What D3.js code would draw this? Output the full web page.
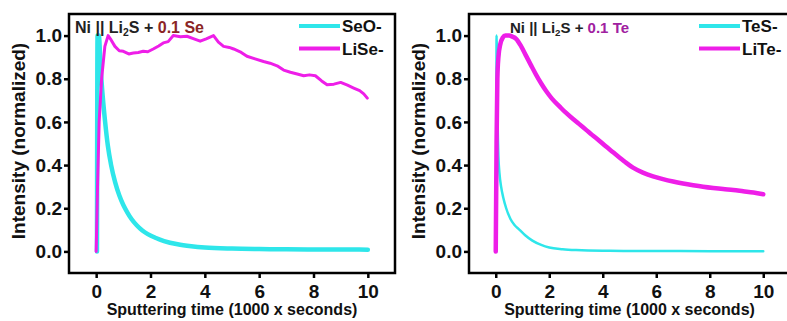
<!DOCTYPE html>
<html>
<head>
<meta charset="utf-8">
<script src="https://cdn.jsdelivr.net/npm/d3@7"></script>
<style>
  body { margin: 0; background: #fff; }
  text { font-family: "Liberation Sans", Arial, sans-serif; font-weight: bold; }
</style>
</head>
<body>
<script>
// x ticks / y ticks
const xTicks = [0, 2, 4, 6, 8, 10];
const yTicks = [0.0, 0.2, 0.4, 0.6, 0.8, 1.0];

// left panel: Ni || Li2S + 0.1 Se
const seoData = [[0.03, 0], [0.05, 1.0], [0.1, 1.0], [0.16, 0.86], [0.24, 0.72], [0.33, 0.6], [0.43, 0.49],
  [0.55, 0.4], [0.7, 0.32], [0.85, 0.26], [1.0, 0.215], [1.15, 0.18], [1.3, 0.15], [1.5, 0.12], [1.7, 0.097],
  [1.9, 0.08], [2.2, 0.062], [2.5, 0.048], [3.0, 0.033], [3.5, 0.024], [4.0, 0.018], [5.0, 0.013],
  [6.0, 0.011], [7.0, 0.01], [8.0, 0.009], [9.0, 0.009], [10.0, 0.008]];
const liseData = [[0, 0], [0.05, 0.3], [0.11, 0.6], [0.2, 0.8], [0.32, 0.95], [0.44, 1.0], [0.55, 0.98],
  [0.69, 0.95], [0.85, 0.93], [1.0, 0.927], [1.2, 0.915], [1.37, 0.919], [1.55, 0.922], [1.73, 0.927],
  [1.9, 0.925], [2.1, 0.938], [2.3, 0.952], [2.47, 0.966], [2.65, 0.972], [2.84, 1.0], [3.1, 0.995],
  [3.34, 0.997], [3.6, 0.985], [3.83, 0.974], [4.05, 0.985], [4.32, 1.0], [4.5, 0.97], [4.69, 0.95],
  [4.9, 0.945], [5.06, 0.938], [5.3, 0.925], [5.55, 0.904], [5.85, 0.892], [6.16, 0.88], [6.4, 0.872],
  [6.66, 0.86], [6.9, 0.84], [7.15, 0.83], [7.4, 0.822], [7.64, 0.814], [7.85, 0.818], [8.07, 0.814],
  [8.3, 0.79], [8.5, 0.772], [8.75, 0.775], [9.0, 0.783], [9.25, 0.77], [9.48, 0.757], [9.7, 0.745],
  [9.85, 0.73], [9.98, 0.71]];

// right panel: Ni || Li2S + 0.1 Te
const tesData = [[0.02, 0], [0.03, 1.0], [0.05, 0.8], [0.07, 0.6], [0.1, 0.44], [0.14, 0.36], [0.2, 0.3],
  [0.28, 0.25], [0.39, 0.2], [0.55, 0.15], [0.7, 0.122], [0.89, 0.1], [1.1, 0.075], [1.37, 0.05],
  [1.7, 0.03], [2.0, 0.018], [2.5, 0.01], [3, 0.006], [4, 0.003], [6, 0.002], [8, 0.001], [10, 0.001]];
const liteData = [[0, 0], [0.03, 0.5], [0.06, 0.8], [0.1, 0.9], [0.17, 0.96], [0.26, 0.99], [0.36, 1.0],
  [0.5, 1.0], [0.62, 0.995], [0.76, 0.985], [0.95, 0.95], [1.14, 0.905], [1.32, 0.862], [1.51, 0.818],
  [1.7, 0.778], [1.89, 0.742], [2.1, 0.708], [2.39, 0.671], [2.6, 0.645], [2.88, 0.615], [3.1, 0.592],
  [3.39, 0.562], [3.6, 0.54], [3.88, 0.512], [4.1, 0.488], [4.4, 0.458], [4.6, 0.438], [4.85, 0.413],
  [5.13, 0.388], [5.5, 0.365], [5.88, 0.348], [6.25, 0.335], [6.63, 0.324], [7.0, 0.315], [7.38, 0.307],
  [7.75, 0.3], [8.13, 0.294], [8.5, 0.289], [8.88, 0.285], [9.25, 0.279], [9.63, 0.273], [10.0, 0.265]];

const cyan = '#2ee6ea', magenta = '#ee1ee8';

const panels = [
  { x0: 69, x1: 395, ttl: '0.1 Se', ttlColor: '#8b2525', ttlX: 75, ttlSize: 16,
    series: [
      { name: 'SeO-', data: seoData, color: cyan, w: 4.5, curve: d3.curveMonotoneX },
      { name: 'LiSe-', data: liseData, color: magenta, w: 3, curve: d3.curveLinear }
    ] },
  { x0: 469, x1: 790, ttl: '0.1 Te', ttlColor: '#a021a0', ttlX: 510, ttlSize: 15,
    series: [
      { name: 'TeS-', data: tesData, color: cyan, w: 2.5, curve: d3.curveMonotoneX },
      { name: 'LiTe-', data: liteData, color: magenta, w: 4.5, curve: d3.curveMonotoneX }
    ] }
];

const W = 787, H = 321;
const svg = d3.select('body').append('svg').attr('width', W).attr('height', H);

const yScale = d3.scaleLinear().domain([-0.1, 1.1]).range([273, 14]);

panels.forEach(p => {
  const xScale = d3.scaleLinear().domain([-1, 11]).range([p.x0, p.x1]);
  const g = svg.append('g');

  // curves
  p.series.forEach(s => {
    const line = d3.line().x(d => xScale(d[0])).y(d => yScale(d[1])).curve(s.curve);
    g.append('path').datum(s.data)
      .attr('d', line)
      .attr('fill', 'none')
      .attr('stroke', s.color)
      .attr('stroke-width', s.w)
      .attr('stroke-linejoin', 'round')
      .attr('stroke-linecap', 'round');
  });

  // frame
  g.append('rect')
    .attr('x', p.x0).attr('y', 14)
    .attr('width', p.x1 - p.x0).attr('height', 273 - 14)
    .attr('fill', 'none').attr('stroke', '#000').attr('stroke-width', 2.5);

  // axes
  const xAxis = g.append('g').attr('transform', 'translate(0,273)')
    .call(d3.axisBottom(xScale).tickValues(xTicks).tickSize(5).tickPadding(7).tickFormat(d3.format('d')));
  const yAxis = g.append('g').attr('transform', `translate(${p.x0},0)`)
    .call(d3.axisLeft(yScale).tickValues(yTicks).tickSize(5).tickPadding(2).tickFormat(d3.format('.1f')));
  [xAxis, yAxis].forEach(a => {
    a.select('.domain').remove();
    a.selectAll('.tick line').attr('stroke', '#000').attr('stroke-width', 2.5);
    a.selectAll('.tick text').attr('fill', '#111').style('font-size', '19px')
      .style('font-family', '"Liberation Sans", Arial, sans-serif');
  });

  // axis titles
  g.append('text')
    .attr('x', (p.x0 + p.x1) / 2).attr('y', 315)
    .attr('text-anchor', 'middle').style('font-size', '16px').attr('fill', '#111')
    .text('Sputtering time (1000 x seconds)');
  g.append('text')
    .attr('transform', `translate(${p.x0 - 44},141) rotate(-90)`)
    .attr('text-anchor', 'middle').style('font-size', '19px').attr('fill', '#111')
    .text('Intensity (normalized)');

  // panel label
  const t = g.append('text').attr('x', p.ttlX).attr('y', 33)
    .style('font-size', p.ttlSize + 'px').attr('fill', '#222');
  t.append('tspan').text('Ni || Li');
  t.append('tspan').text('2').attr('dy', 3).style('font-size', (p.ttlSize * 0.65) + 'px');
  t.append('tspan').text('S + ').attr('dy', -3);
  t.append('tspan').text(p.ttl).attr('fill', p.ttlColor);

  // legend
  const lg = g.selectAll('.leg').data(p.series).enter().append('g')
    .attr('transform', (d, i) => `translate(${p.x0 + 230},${26 + i * 22.5})`);
  lg.append('line').attr('x1', 0).attr('x2', 41)
    .attr('stroke', d => d.color).attr('stroke-width', 4);
  lg.append('text').attr('x', 43).attr('y', 6)
    .style('font-size', '17px').attr('fill', '#111')
    .text(d => d.name);
});
</script>
</body>
</html>
